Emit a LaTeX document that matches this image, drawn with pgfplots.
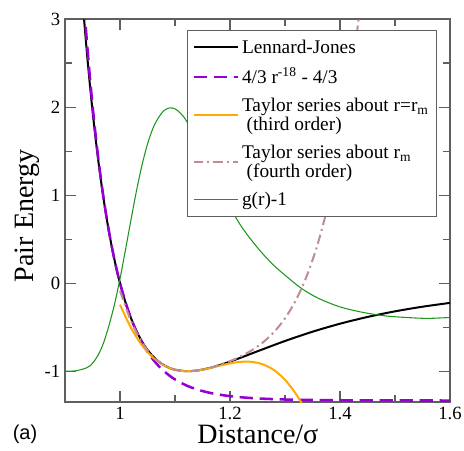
\documentclass[border=0pt]{standalone}
\usepackage{fontspec}
\setmainfont{Liberation Serif}
\newfontfamily\labsans{Liberation Sans}
\usepackage{pgfplots}
\pgfplotsset{compat=1.18}
\definecolor{ljpurple}{RGB}{150,0,210}
\definecolor{tayorange}{RGB}{255,170,0}
\definecolor{taybrown}{RGB}{190,140,145}
\definecolor{ggreen}{RGB}{30,150,30}
\definecolor{axgray}{RGB}{95,95,95}

\begin{document}
\begin{tikzpicture}
\begin{axis}[
  scale only axis, width=288.75pt, height=287.25pt,
  xmin=0.9, xmax=1.6, ymin=-1.35, ymax=3,
  xtick={1,1.2,1.4,1.6}, minor x tick num=1,
  ytick={-1,0,1,2,3}, minor y tick num=1,
  tick align=inside, major tick length=8pt, minor tick length=5pt,
  axis line style={axgray, line width=1pt},
  every tick/.style={axgray, line width=0.8pt},
  tick label style={font=\fontsize{14}{16}\selectfont},
  /pgf/number format/assume math mode=true,
  xlabel={Distance/σ}, ylabel={Pair Energy},
  label style={font=\fontsize{21}{24}\selectfont},
  xlabel style={at={(axis description cs:0.501,0)}, anchor=base, yshift=-31pt},
  ylabel style={at={(axis description cs:-0.0831,0.486)}, anchor=base},
  legend style={at={(0.966,0.971)}, anchor=north east, draw=axgray, fill=white,
    font=\fontsize{14.5}{14}\selectfont, cells={align=left}, row sep=5.5pt,
    inner xsep=4pt, inner ysep=5pt},
  legend cell align=left,
  legend image code/.code={\draw[mark repeat=2,mark phase=2,#1] plot coordinates {(0pt,0pt) (16pt,0pt) (33pt,0pt)};},
]
% Lennard-Jones
\addplot[black, line width=1.5pt, smooth] coordinates {
(0.93,3.3734) (0.935,2.974) (0.94,2.6062) (0.945,2.2698) (0.95,1.9610) (0.955,1.6778)
(0.96,1.4182) (0.965,1.1805) (0.97,0.9629) (0.975,0.7639) (0.98,0.5819) (0.985,0.4157)
(0.99,0.2641) (0.995,0.1258) (1.00,0) (1.01,-0.2184) (1.02,-0.3979) (1.03,-0.5444)
(1.04,-0.6629) (1.05,-0.7575) (1.06,-0.8320) (1.07,-0.8894) (1.08,-0.9322) (1.09,-0.9629)
(1.10,-0.9834) (1.12,-0.9998) (1.14,-0.9921) (1.16,-0.9679) (1.18,-0.9328) (1.20,-0.8910)
(1.22,-0.8452) (1.25,-0.7737) (1.30,-0.6570) (1.35,-0.5516) (1.40,-0.4607) (1.45,-0.3840)
(1.50,-0.3203) (1.55,-0.2676) (1.60,-0.2242)};
\addlegendentry{Lennard-Jones}
% 4/3 r^-18 - 4/3
\addplot[ljpurple, line width=1.9pt, dash pattern=on 10pt off 5pt, smooth] coordinates {
(0.93,3.590) (0.935,3.1371) (0.94,2.7273) (0.945,2.3577) (0.95,2.0233) (0.955,1.7207)
(0.96,1.4467) (0.965,1.1987) (0.97,0.9736) (0.975,0.7698) (0.98,0.5848) (0.985,0.4168)
(0.99,0.2644) (0.995,0.1259) (1.00,0) (1.01,-0.2186) (1.02,-0.3998) (1.03,-0.5501)
(1.04,-0.6752) (1.05,-0.7793) (1.06,-0.8663) (1.07,-0.9389) (1.08,-0.9997) (1.09,-1.0507)
(1.10,-1.0935) (1.12,-1.1600) (1.14,-1.2073) (1.16,-1.2411) (1.18,-1.2656) (1.20,-1.2832)
(1.22,-1.2961) (1.25,-1.3093) (1.30,-1.3215) (1.35,-1.3273) (1.40,-1.3302) (1.45,-1.3317)
(1.50,-1.3324) (1.55,-1.3328) (1.60,-1.3331)};
\addlegendentry{4/3 r\textsuperscript{-18} - 4/3}
% Taylor third order
\addplot[tayorange, line width=1.5pt, smooth] coordinates {
(1.00,-0.2442) (1.02,-0.5083) (1.04,-0.7058) (1.06,-0.8451) (1.08,-0.9348) (1.10,-0.9836)
(1.12,-0.9998) (1.14,-0.9922) (1.16,-0.9692) (1.18,-0.9393) (1.20,-0.9113) (1.22,-0.8935)
(1.24,-0.8946) (1.26,-0.9231) (1.28,-0.9876) (1.30,-1.0965) (1.32,-1.2586) (1.33,-1.3621)
(1.34,-1.48)};
\addlegendentry{Taylor series about r=r\textsubscript{m}\\\hspace*{3.5pt}(third order)}
% Taylor fourth order
\addplot[taybrown, line width=1.5pt, dash pattern=on 7pt off 3pt on 1.5pt off 3pt, smooth] coordinates {
(1.00,-0.0865) (1.02,-0.4310) (1.04,-0.6734) (1.06,-0.8344) (1.08,-0.9325) (1.10,-0.9834)
(1.12,-0.9998) (1.14,-0.9922) (1.16,-0.9678) (1.18,-0.9316) (1.20,-0.8860) (1.22,-0.8300)
(1.24,-0.7608) (1.26,-0.6722) (1.28,-0.5557) (1.30,-0.3999) (1.32,-0.1910) (1.34,0.0880)
(1.36,0.4562) (1.38,0.9357) (1.40,1.5516) (1.42,2.3310) (1.44,3.3045)};
\addlegendentry{Taylor series about r\textsubscript{m}\\\hspace*{3.5pt}(fourth order)}
% g(r)-1
\addplot[ggreen, line width=0.8pt, smooth] coordinates {
(0.90,-1.0) (0.92,-0.995) (0.94,-0.96) (0.95,-0.91) (0.96,-0.82) (0.97,-0.68) (0.98,-0.48)
(0.99,-0.24) (1.00,0.05) (1.01,0.38) (1.02,0.72) (1.03,1.05) (1.04,1.34) (1.05,1.58)
(1.06,1.76) (1.07,1.88) (1.08,1.96) (1.09,1.99) (1.10,1.98) (1.11,1.93) (1.12,1.85)
(1.14,1.62) (1.16,1.36) (1.18,1.10) (1.20,0.86) (1.22,0.65) (1.24,0.48) (1.26,0.33)
(1.28,0.20) (1.30,0.09) (1.33,-0.06) (1.36,-0.17) (1.40,-0.27) (1.44,-0.33) (1.48,-0.37)
(1.52,-0.39) (1.56,-0.40) (1.60,-0.39)};
\addlegendentry{g(r)-1}
\end{axis}
\node[font=\labsans\fontsize{15}{18}\selectfont] at ([xshift=-30pt,yshift=-24.5pt]current axis.south west) {(a)};
\pgfresetboundingbox
\path[use as bounding box] ([xshift=-48.75pt,yshift=-36pt]current axis.south west) rectangle ([xshift=10.5pt,yshift=14.25pt]current axis.north east);
\end{tikzpicture}
\end{document}
